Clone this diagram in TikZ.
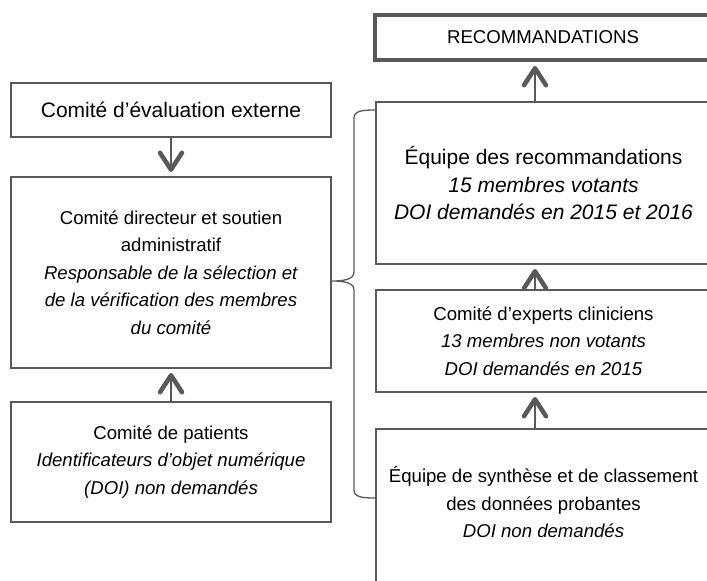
\documentclass[tikz,border=0pt]{standalone}
\usepackage{fontspec}
\setmainfont{Liberation Sans}
\usetikzlibrary{arrows.meta}
\definecolor{ln}{HTML}{595959}
\begin{document}
\begin{tikzpicture}[x=1pt,y=-1pt,
  box/.style={draw=ln, line width=2pt, align=center, inner sep=0pt, text=black,
    font=\fontsize{18.6}{27.5}\selectfont},
  bigbox/.style={box, font=\fontsize{21}{27.5}\selectfont},
  arr/.style={draw=ln, line width=2pt, shorten >=4pt,
    -{Straight Barb[length=17pt,width=22pt,line width=4.5pt,round]}},
  bracepath/.style={draw=ln, line width=1.3pt}]
\useasboundingbox (0,0) rectangle (707,581);
\clip (0,0) rectangle (707,581);
% left column
\node[bigbox, minimum width=320pt, minimum height=54pt] (ext) at (171,110) {Comité d’évaluation externe};
\node[box, minimum width=320pt, minimum height=191pt] (dir) at (171,272.5)
  {Comité directeur et soutien\\administratif\\\textit{Responsable de la sélection et}\\\textit{de la vérification des membres}\\\textit{du comité}};
\node[box, minimum width=320pt, minimum height=120pt] (pat) at (171,462)
  {Comité de patients\\\textit{Identificateurs d’objet numérique}\\\textit{(DOI) non demandés}};
% right column
\node[box, line width=4pt, minimum width=336pt, minimum height=45pt] (reco) at (543,37.5) {RECOMMANDATIONS};
\node[bigbox, minimum width=335pt, minimum height=162pt] (eq) at (543.5,183)
  {Équipe des recommandations\\\textit{15 membres votants}\\\textit{DOI demandés en 2015 et 2016}};
\node[box, minimum width=335pt, minimum height=102pt] (exp) at (543.5,341)
  {Comité d’experts cliniciens\\\textit{13 membres non votants}\\\textit{DOI demandés en 2015}};
\node[box, minimum width=335pt, minimum height=171pt, text depth=25pt] (syn) at (543.5,514.5)
  {Équipe de synthèse et de classement\\des données probantes\\\textit{DOI non demandés}};
\coordinate (ax) at (535,0);
% arrows
\draw[arr] (ext) -- (dir);
\draw[arr] (pat) -- (dir);
\draw[arr] (eq.north -| ax) -- (reco.south -| ax);
\draw[arr] (exp.north -| ax) -- (eq.south -| ax);
\draw[arr] (syn.north -| ax) -- (exp.south -| ax);
% brace
\draw[bracepath] (eq.north west |- 0,110) .. controls (362,110) and (354,111) .. (354,118)
  -- (354,272) .. controls (354,279) and (345,281) .. (dir.east |- 0,281)
  .. controls (345,281) and (354,283) .. (354,290)
  -- (354,490) .. controls (354,497) and (362,498) .. (syn.west |- 0,498);
\end{tikzpicture}
\end{document}
